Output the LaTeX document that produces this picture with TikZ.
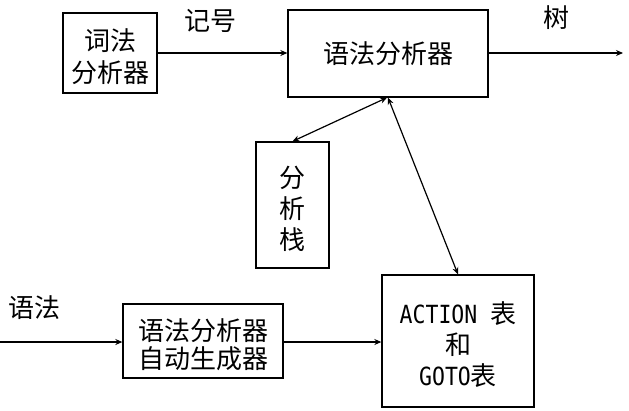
\documentclass[tikz,border=0pt]{standalone}
\usepackage{fontspec}
\newfontfamily\cjk{Noto Sans CJK SC}
\newfontfamily\monolat[FakeStretch=0.86]{DejaVu Sans Mono}
\usetikzlibrary{arrows.meta,calc}
\newcommand{\dropline}{\rule{0pt}{29pt}}
\begin{document}
\begin{tikzpicture}[x=1pt,y=-1pt,
  box/.style={draw,line width=1.3pt,inner sep=0pt,align=center,
    font=\cjk\fontsize{26}{31}\selectfont},
  lbl/.style={inner sep=0pt,font=\cjk\fontsize{26}{31}\selectfont},
  conn/.style={line width=1.2pt,-{Stealth[length=7pt,width=6pt]}},
  conn2/.style={line width=1.2pt,{Stealth[length=7pt,width=6pt]}-{Stealth[length=7pt,width=6pt]}}]
\useasboundingbox (0,0) rectangle (629,410);
\node[box,minimum width=94pt,minimum height=80pt,font=\cjk\fontsize{26}{32}\selectfont] (lex) at (110,53) {\dropline 词法\\分析器};
\node[box,minimum width=200pt,minimum height=87pt] (top) at (388,53.5) {语法分析器};
\node[box,minimum width=73pt,minimum height=126pt,font=\cjk\fontsize{26}{31}\selectfont] (stack) at (292.5,205) {\dropline 分\\析\\栈};
\node[box,minimum width=160pt,minimum height=74pt,font=\cjk\fontsize{26}{28}\selectfont] (gen) at (203,341) {\dropline 语法分析器\\自动生成器};
\node[box,minimum width=152pt,minimum height=132pt] (act) at (458,341) {\dropline{\monolat\fontsize{25}{31}\selectfont ACTION\ }表\\和\\{\monolat\fontsize{25}{31}\selectfont GOTO}表};
\node[lbl] (lsym) at (210,21) {记号};
\node[lbl] (ltree) at (556,18) {树};
\node[lbl] (lgram) at (35,308) {语法};
\coordinate (gin) at (0,342);
\coordinate (tout) at (623,53);
\draw[conn] (lex.east) -- (lex.east -| top.west);
\draw[conn] (top.east |- lex.east) -- (tout);
\draw[conn2] (stack.north) -- ([xshift=-1pt]top.south);
\draw[conn2] (top.south) -- (act.north);
\draw[conn] (gin) -- (gin -| gen.west);
\draw[conn] (gen.east |- gin) -- (gin -| act.west);
\end{tikzpicture}
\end{document}
